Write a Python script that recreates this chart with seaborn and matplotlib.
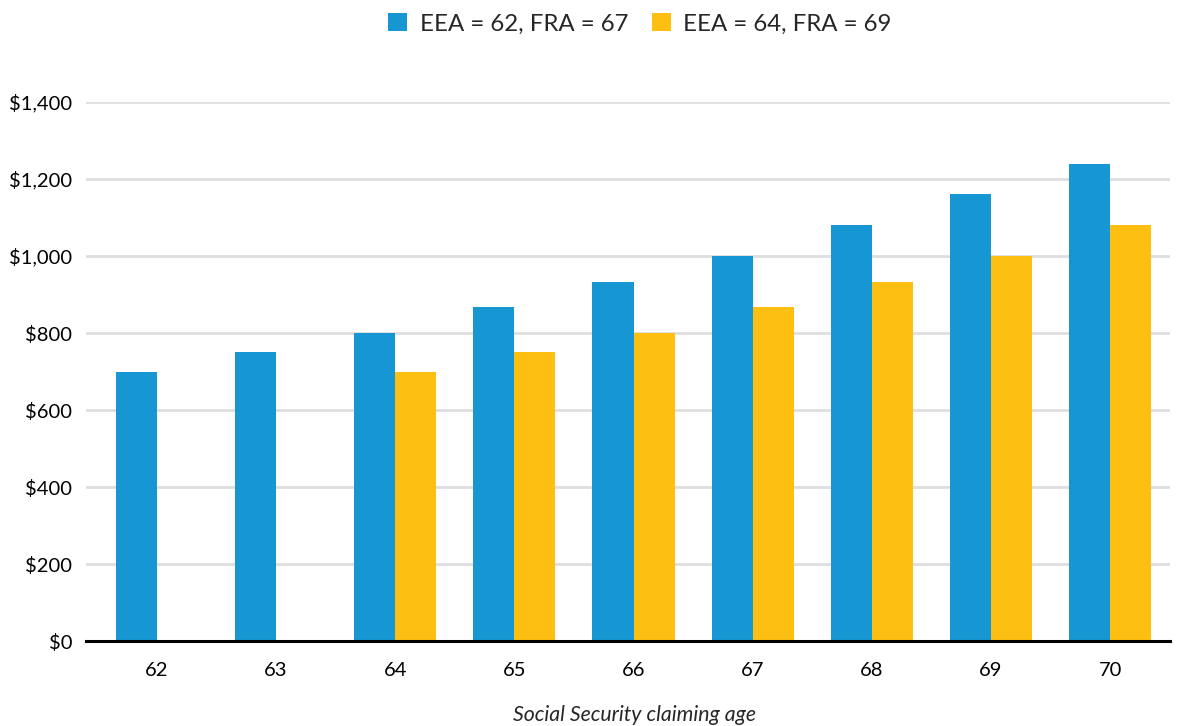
import matplotlib
matplotlib.use("Agg")
import matplotlib.pyplot as plt
import seaborn as sns
import pandas as pd
import numpy as np
from matplotlib.patches import Patch
from matplotlib.ticker import FuncFormatter

ages = ["62", "63", "64", "65", "66", "67", "68", "69", "70"]
series_names = ["EEA = 62, FRA = 67", "EEA = 64, FRA = 69"]
eea62 = [700, 750, 800, 867, 933, 1000, 1080, 1160, 1240]
eea64 = [np.nan, np.nan, 700, 750, 800, 867, 933, 1000, 1080]
colors = ["#1696d2", "#fdbf11"]
yticks = [0, 200, 400, 600, 800, 1000, 1200, 1400]

sns.set_theme(style="white")
plt.rcParams["font.family"] = ["Lato", "DejaVu Sans"]

df = pd.DataFrame({
    "age": ages * 2,
    "value": eea62 + eea64,
    "series": [series_names[0]] * len(ages) + [series_names[1]] * len(ages),
})

fig = plt.figure(figsize=(11.84, 7.26), dpi=100)
ax = fig.add_axes([0.0726, 0.117, 0.9154, 0.7425])

sns.barplot(data=df, x="age", y="value", hue="series", order=ages,
            hue_order=series_names, palette=colors, width=0.69,
            saturation=1, ax=ax, legend=False, linewidth=0)

ax.set_ylim(0, 1400)
ax.set_xlim(-0.595, 8.5)
ax.set_yticks(yticks)
ax.yaxis.set_major_formatter(FuncFormatter(lambda v, p: f"${v:,.0f}"))
ax.yaxis.grid(True, color="#dedede", linewidth=2)
ax.set_axisbelow(True)
for s in ["left", "right", "top"]:
    ax.spines[s].set_visible(False)
ax.spines["bottom"].set_color("black")
ax.spines["bottom"].set_linewidth(2.2)
ax.spines["bottom"].set_zorder(5)
ax.tick_params(axis="both", length=0, labelsize=14.5, colors="black")
ax.tick_params(axis="x", pad=15)
ax.tick_params(axis="y", pad=10)
ax.set_ylabel("")
ax.set_xlabel("Social Security claiming age", fontsize=15.3, style="italic", labelpad=16)
ax.xaxis.set_label_coords(0.506, -0.118)

handles = [Patch(facecolor=c, edgecolor="none") for c in colors]
fig.legend(handles, series_names, loc="upper center", bbox_to_anchor=(0.5405, 1.012),
           ncol=2, frameon=False, fontsize=17.3, handlelength=0.8, handleheight=0.8,
           handletextpad=0.5, columnspacing=1.0)

fig.savefig("out.png", dpi=100)
